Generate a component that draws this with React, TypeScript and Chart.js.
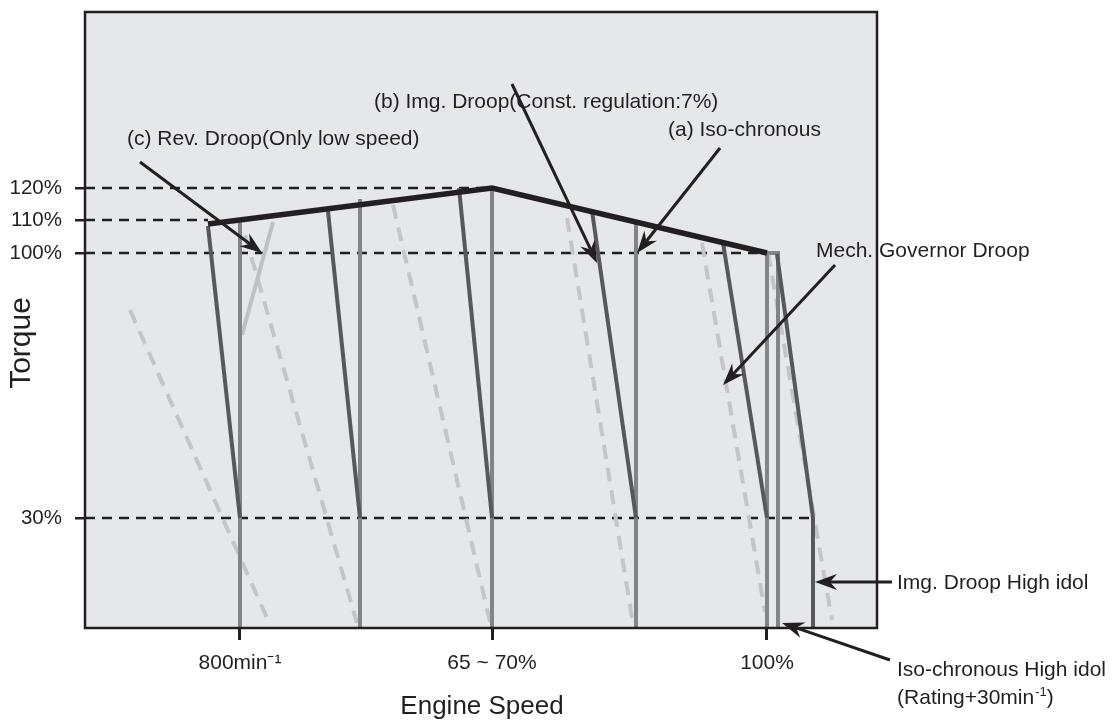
import React, { useEffect, useRef } from 'react';
import { Chart, registerables } from 'chart.js';

Chart.register(...registerables);

// ---- Axis ticks (schematic units: speed axis 0..100, torque axis 0..100) ----
const speedTicks = [19.57, 51.39, 86.11];
const speedTickLabels = ['800min\u207B\u00B9', '65 ~ 70%', '100%'];
const torqueTicks = [71.43, 66.23, 60.88, 17.86];
const torqueTickLabels = ['120%', '110%', '100%', '30%'];

// ---- Series ----
// Max torque envelope
const envelope = [[15.53, 65.58], [51.39, 71.43], [86.11, 60.88]];

// (a) Iso-chronous lines
const isoLines = [
  [[19.57, 65.91], [19.57, 0]],
  [[34.72, 69.64], [34.72, 0]],
  [[51.39, 71.43], [51.39, 0]],
  [[69.57, 65.91], [69.57, 0]],
  [[86.11, 60.88], [86.11, 0]],
];
// Iso-chronous high idle
const isoHighIdle = [[86.11, 60.88], [87.5, 60.88], [87.5, 0]];

// (b) Img. Droop lines
const imgDroopLines = [
  [[15.53, 65.26], [19.57, 17.86]],
  [[30.68, 67.69], [34.72, 17.86]],
  [[47.22, 71.43], [51.39, 17.86]],
  [[64.02, 67.69], [69.57, 17.86]],
  [[80.56, 62.5], [86.11, 17.86]],
];
// Img. Droop high idle
const imgDroopHighIdle = [[87.37, 60.71], [91.92, 17.86], [91.92, 0]];

// (c) Rev. Droop (only low speed)
const revDroop = [[19.82, 47.56], [23.74, 65.91]];

// Mech. governor droop (dashed)
const mechDroopLines = [
  [[5.68, 51.62], [22.98, 1.62]],
  [[20.2, 63.8], [34.34, 0.81]],
  [[38.89, 68.66], [51.14, 0.97]],
  [[60.86, 66.56], [69.19, 0.65]],
  [[77.9, 62.5], [85.86, 2.6]],
  [[86.24, 60.88], [94.32, 1.3]],
];

// Reference torque levels (dashed black)
const refLevels = [
  [[0, 71.43], [51.39, 71.43]],
  [[0, 66.23], [15.53, 66.23]],
  [[0, 60.88], [86.11, 60.88]],
  [[0, 17.86], [91.92, 17.86]],
];

// ---- Annotations (text anchor: left x / baseline y, in chart units) ----
const noteTexts = [
  { parts: [['(b) Img. Droop(Const. regulation:7%)', false]], x: 36.49, y: 84.42 },
  { parts: [['(c) Rev. Droop(Only low speed)', false]], x: 5.3, y: 78.41 },
  { parts: [['(a) Iso-chronous', false]], x: 73.61, y: 79.87 },
  { parts: [['Mech. Governor Droop', false]], x: 92.3, y: 60.23 },
  { parts: [['Img. Droop High idol', false]], x: 102.53, y: 6.33 },
  { parts: [['Iso-chronous High idol', false]], x: 102.53, y: -7.79 },
  { parts: [['(Rating+30min', false], ['-1', true], [')', false]], x: 102.53, y: -12.34 },
];
const noteArrows = [
  [53.91, 88.31, 64.65, 59.25],
  [6.94, 75.65, 22.35, 60.88],
  [80.18, 77.92, 69.7, 60.88],
  [94.7, 58.93, 80.56, 39.45],
  [101.89, 7.47, 92.17, 7.47],
  [101.64, -5.19, 88.01, 0.81],
];
const xTitle = { text: 'Engine Speed', x: 50.13, y: -13.96 };
const yTitle = { text: 'Torque', x: -7.95, y: 46.27 };

const INK = '#231f20';
const FONT = '"Liberation Sans", Arial, Helvetica, sans-serif';

function toPts(arr: number[][]) {
  return arr.map(([x, y]) => ({ x, y }));
}

export default function App() {
  const ref = useRef<HTMLCanvasElement | null>(null);

  useEffect(() => {
    if (!ref.current) return;
    const layers: any[] = [];
    refLevels.forEach((l) =>
      layers.push({ data: toPts(l), borderColor: INK, borderWidth: 2.5, borderDash: [10, 7], borderCapStyle: 'butt' })
    );
    mechDroopLines.forEach((l) =>
      layers.push({ data: toPts(l), borderColor: '#c4c5c7', borderWidth: 4, borderDash: [14, 9], borderCapStyle: 'butt' })
    );
    layers.push({ data: toPts(revDroop), borderColor: '#bfc0c2', borderWidth: 4 });
    isoLines.forEach((l) => layers.push({ data: toPts(l), borderColor: '#838487', borderWidth: 4 }));
    layers.push({ data: toPts(isoHighIdle), borderColor: '#838487', borderWidth: 4 });
    imgDroopLines.forEach((l) => layers.push({ data: toPts(l), borderColor: '#58585a', borderWidth: 4 }));
    layers.push({ data: toPts(imgDroopHighIdle), borderColor: '#58585a', borderWidth: 4 });
    layers.push({ data: toPts(envelope), borderColor: INK, borderWidth: 5.5 });

    const N = layers.length;
    const datasets = layers.map((d, i) => ({
      type: 'line',
      showLine: true,
      pointRadius: 0,
      fill: false,
      tension: 0,
      borderJoinStyle: 'miter',
      order: N - i,
      ...d,
    }));

    const drawArrow = (ctx: CanvasRenderingContext2D, x1: number, y1: number, x2: number, y2: number) => {
      const ang = Math.atan2(y2 - y1, x2 - x1);
      const c = Math.cos(ang), s = Math.sin(ang);
      const L = 22, W = 8, Nn = 15;
      const bx = x2 - L * c, by = y2 - L * s;
      const nx = x2 - Nn * c, ny = y2 - Nn * s;
      ctx.beginPath();
      ctx.moveTo(x1, y1);
      ctx.lineTo(nx, ny);
      ctx.stroke();
      ctx.beginPath();
      ctx.moveTo(x2, y2);
      ctx.lineTo(bx - W * s, by + W * c);
      ctx.lineTo(nx, ny);
      ctx.lineTo(bx + W * s, by - W * c);
      ctx.closePath();
      ctx.fill();
    };

    const deco = {
      id: 'deco',
      beforeDraw(chart: any) {
        const { ctx, chartArea: a } = chart;
        ctx.save();
        ctx.fillStyle = '#e6e7e8';
        ctx.fillRect(a.left, a.top, a.right - a.left, a.bottom - a.top);
        ctx.restore();
      },
      afterDatasetsDraw(chart: any) {
        const { ctx, chartArea: a } = chart;
        const xs = chart.scales.x, ys = chart.scales.y;
        const px = (v: number) => xs.getPixelForValue(v);
        const py = (v: number) => ys.getPixelForValue(v);
        ctx.save();
        ctx.strokeStyle = INK;
        ctx.lineWidth = 2.5;
        ctx.strokeRect(a.left, a.top, a.right - a.left, a.bottom - a.top);

        ctx.lineWidth = 3;
        ctx.fillStyle = INK;
        ctx.lineCap = 'butt';
        noteArrows.forEach(([x1, y1, x2, y2]) => drawArrow(ctx, px(x1), py(y1), px(x2), py(y2)));

        ctx.textBaseline = 'alphabetic';
        ctx.textAlign = 'left';
        noteTexts.forEach((n) => {
          let cx = px(n.x);
          const by = py(n.y);
          n.parts.forEach(([t, sup]: any) => {
            if (sup) {
              ctx.font = `13px ${FONT}`;
              ctx.fillText(t, cx + 1, by - 8);
              cx += ctx.measureText(t).width + 1;
            } else {
              ctx.font = `21px ${FONT}`;
              ctx.fillText(t, cx, by);
              cx += ctx.measureText(t).width;
            }
          });
        });

        ctx.font = `26px ${FONT}`;
        ctx.textAlign = 'center';
        ctx.fillText(xTitle.text, px(xTitle.x), py(xTitle.y));
        ctx.save();
        ctx.translate(px(yTitle.x), py(yTitle.y));
        ctx.rotate(-Math.PI / 2);
        ctx.textBaseline = 'middle';
        ctx.font = `30px ${FONT}`;
        ctx.fillText(yTitle.text, 0, 0);
        ctx.restore();
        ctx.restore();
      },
    };

    const chart = new Chart(ref.current, {
      type: 'scatter',
      data: { datasets } as any,
      plugins: [deco],
      options: {
        animation: false,
        responsive: false,
        devicePixelRatio: 1,
        layout: { padding: { left: 0, top: 12, right: 237, bottom: 0 } },
        plugins: { legend: { display: false }, tooltip: { enabled: false }, title: { display: false } },
        events: [],
        scales: {
          x: {
            type: 'linear',
            min: 0,
            max: 100,
            afterFit: (s: any) => { s.height = 99; s.paddingLeft = 0; s.paddingRight = 0; },
            afterBuildTicks: (s: any) => { s.ticks = speedTicks.map((v) => ({ value: v })); },
            ticks: {
              callback: (_v: any, i: number) => speedTickLabels[i],
              font: { family: FONT, size: 21 },
              color: INK,
              padding: 11,
              maxRotation: 0,
              autoSkip: false,
            },
            grid: { drawOnChartArea: false, drawTicks: true, tickLength: 12, color: INK, lineWidth: 3 },
            border: { display: false },
          },
          y: {
            type: 'linear',
            min: 0,
            max: 100,
            afterFit: (s: any) => { s.width = 85; s.paddingTop = 0; s.paddingBottom = 0; },
            afterBuildTicks: (s: any) => { s.ticks = torqueTicks.map((v) => ({ value: v })); },
            ticks: {
              callback: (_v: any, i: number) => torqueTickLabels[i],
              font: { family: FONT, size: 20.5 },
              color: INK,
              padding: 13,
              autoSkip: false,
            },
            grid: { drawOnChartArea: false, drawTicks: true, tickLength: 10, color: INK, lineWidth: 2.5 },
            border: { display: false },
          },
        },
      } as any,
    });
    return () => chart.destroy();
  }, []);

  return (
    <div style={{ position: 'fixed', left: 0, top: 0, width: 1114, height: 727, background: '#fff' }}>
      <canvas ref={ref} width={1114} height={727} style={{ width: 1114, height: 727, display: 'block' }} />
    </div>
  );
}
